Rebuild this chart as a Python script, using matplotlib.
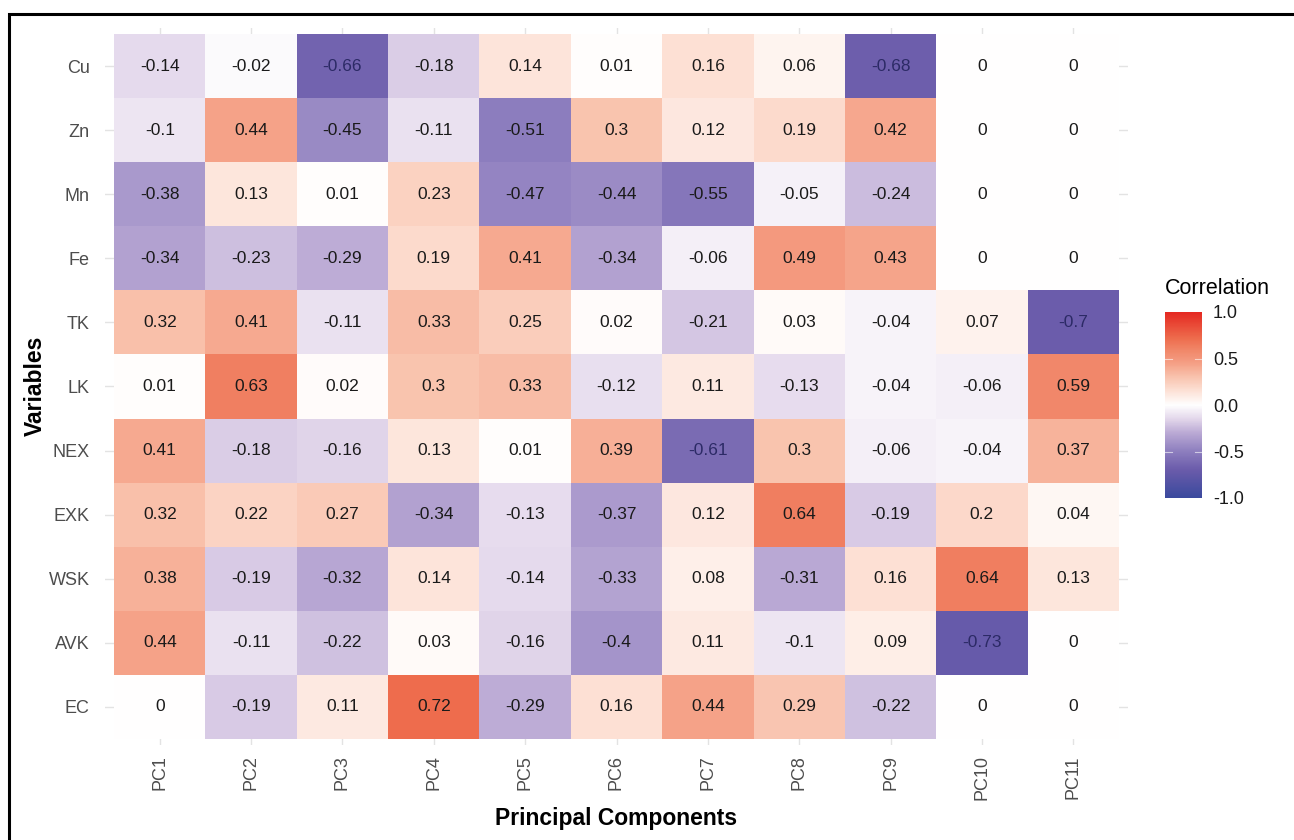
import numpy as np
import matplotlib
matplotlib.use("Agg")
import matplotlib.pyplot as plt
from matplotlib.colors import LinearSegmentedColormap, Normalize
from matplotlib.patches import Rectangle

plt.rcParams['font.family'] = ['Liberation Sans', 'DejaVu Sans']

variables = ["Cu", "Zn", "Mn", "Fe", "TK", "LK", "NEX", "EXK", "WSK", "AVK", "EC"]
components = ["PC1", "PC2", "PC3", "PC4", "PC5", "PC6", "PC7", "PC8", "PC9", "PC10", "PC11"]

cu = [-0.14, -0.02, -0.66, -0.18, 0.14, 0.01, 0.16, 0.06, -0.68, 0, 0]
zn = [-0.1, 0.44, -0.45, -0.11, -0.51, 0.3, 0.12, 0.19, 0.42, 0, 0]
mn = [-0.38, 0.13, 0.01, 0.23, -0.47, -0.44, -0.55, -0.05, -0.24, 0, 0]
fe = [-0.34, -0.23, -0.29, 0.19, 0.41, -0.34, -0.06, 0.49, 0.43, 0, 0]
tk = [0.32, 0.41, -0.11, 0.33, 0.25, 0.02, -0.21, 0.03, -0.04, 0.07, -0.7]
lk = [0.01, 0.63, 0.02, 0.3, 0.33, -0.12, 0.11, -0.13, -0.04, -0.06, 0.59]
nex = [0.41, -0.18, -0.16, 0.13, 0.01, 0.39, -0.61, 0.3, -0.06, -0.04, 0.37]
exk = [0.32, 0.22, 0.27, -0.34, -0.13, -0.37, 0.12, 0.64, -0.19, 0.2, 0.04]
wsk = [0.38, -0.19, -0.32, 0.14, -0.14, -0.33, 0.08, -0.31, 0.16, 0.64, 0.13]
avk = [0.44, -0.11, -0.22, 0.03, -0.16, -0.4, 0.11, -0.1, 0.09, -0.73, 0]
ec = [0, -0.19, 0.11, 0.72, -0.29, 0.16, 0.44, 0.29, -0.22, 0, 0]

rows = [cu, zn, mn, fe, tk, lk, nex, exk, wsk, avk, ec]
colorbar_ticks = [-1.0, -0.5, 0.0, 0.5, 1.0]

# diverging palette (blue-purple -> white -> red)
anchors = [(-1.0, "#3b4a9e"), (-0.7, "#6b5cab"), (-0.5, "#8e7fbf"), (-0.3, "#bbaad5"),
           (-0.15, "#e3d7eb"), (0.0, "#ffffff"), (0.15, "#fde2d7"), (0.3, "#f9c4af"),
           (0.45, "#f5a086"), (0.6, "#f18668"), (0.72, "#ee6d4e"), (1.0, "#e52a22")]
cmap = LinearSegmentedColormap.from_list("corr", [((v + 1) / 2, c) for v, c in anchors])
norm = Normalize(-1, 1)

data = np.array(rows, dtype=float)
nr, nc = data.shape

fig = plt.figure(figsize=(12.94, 8.40), dpi=100)
W, H = 1294, 840
px_l, px_r, px_t, px_b = 105, 1128, 27.6, 745.4
ax = fig.add_axes([px_l / W, 1 - px_b / H, (px_r - px_l) / W, (px_b - px_t) / H])

xe = np.arange(nc + 1) + 0.5
ye = np.arange(nr + 1) + 0.5
ax.set_xlim(0.4, nc + 0.6)
ax.set_ylim(nr + 0.6, 0.4)

# grid lines (visible only in expansion area)
for i in range(1, nc + 1):
    ax.axvline(i, color="#e3e3e3", lw=1.0, zorder=0)
for j in range(1, nr + 1):
    ax.axhline(j, color="#e3e3e3", lw=1.0, zorder=0)

ax.pcolormesh(xe, ye, data, cmap=cmap, norm=norm, zorder=1)

for j in range(nr):
    for i in range(nc):
        v = data[j, i]
        col = "#2c2a66" if v < -0.55 else "#1a1a1a"
        ax.text(i + 1, j + 1, f"{v:g}", ha="center", va="center", fontsize=12.5,
                color=col, zorder=3)

ax.set_xticks(np.arange(1, nc + 1))
ax.set_xticklabels(components, rotation=90, fontsize=13, color="#4d4d4d")
ax.set_yticks(np.arange(1, nr + 1))
ax.set_yticklabels(variables, fontsize=13, color="#4d4d4d")
ax.tick_params(length=0)
ax.tick_params(axis="x", pad=7)
ax.tick_params(axis="y", pad=11)
for s in ax.spines.values():
    s.set_visible(False)

fig.text((px_l + px_r) / 2 / W, 1 - 818 / H, "Principal Components", ha="center", va="center",
         fontsize=16.5, fontweight="bold")
fig.text(35 / W, 1 - 386 / H, "Variables", ha="center", va="center", rotation=90,
         fontsize=16.5, fontweight="bold")

# colorbar
cax = fig.add_axes([1165 / W, 1 - 498 / H, 37 / W, 186 / H])
grad = np.linspace(-1, 1, 300).reshape(-1, 1)
cax.imshow(grad, aspect="auto", cmap=cmap, norm=norm, origin="lower", extent=[0, 1, -1, 1])
cax.set_xlim(0, 1)
cax.set_ylim(-1, 1)
cax.set_xticks([])
cax.set_yticks(colorbar_ticks)
cax.set_yticklabels([f"{t:.1f}" for t in colorbar_ticks], fontsize=13, color="#1a1a1a")
cax.yaxis.tick_right()
cax.tick_params(length=0, pad=8)
for t in colorbar_ticks[1:-1]:
    cax.plot([0, 0.2], [t, t], color="white", lw=0.8, alpha=0.6)
    cax.plot([0.8, 1], [t, t], color="white", lw=0.8, alpha=0.6)
for s in cax.spines.values():
    s.set_visible(False)
fig.text(1165 / W, 1 - 288 / H, "Correlation", ha="left", va="center", fontsize=15.5)

# outer frame (top/left visible)
fig.patches.append(Rectangle((9 / W, -0.05), 1.2, 1 - 14 / H + 0.05, transform=fig.transFigure,
                             fill=False, edgecolor="black", lw=2.2))

fig.savefig("out.png", dpi=100, facecolor="white")
